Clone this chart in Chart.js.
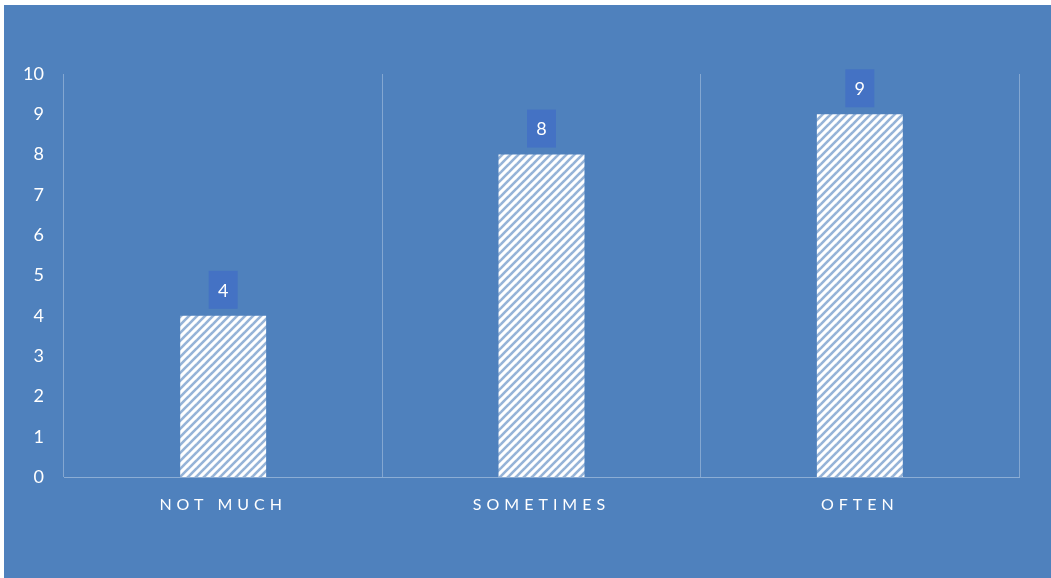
<!DOCTYPE html>
<html>
<head>
<meta charset="utf-8">
<script src="https://cdn.jsdelivr.net/npm/chart.js@4/dist/chart.umd.min.js"></script>
<style>
  html, body { margin: 0; padding: 0; background: #ffffff; }
  #wrap {
    position: absolute; left: 4px; top: 5px;
    width: 1047px; height: 573px;
    background: #4f81bd;
  }
</style>
</head>
<body>
<div id="wrap"><canvas id="chart"></canvas></div>
<script>
const categories = ['NOT MUCH', 'SOMETIMES', 'OFTEN'];
const answers = [4, 8, 9];
const yTicks = [0, 1, 2, 3, 4, 5, 6, 7, 8, 9, 10];

const FONT = 'Lato, "Open Sans", sans-serif';

// diagonal hatch fill for the bars, white with thin blue upward stripes
function makeHatch() {
  const size = 8;
  const c = document.createElement('canvas');
  c.width = size; c.height = size;
  const g = c.getContext('2d');
  g.fillStyle = '#ffffff';
  g.fillRect(0, 0, size, size);
  g.strokeStyle = 'rgba(79,129,189,0.6)';
  g.lineWidth = 2.6;
  for (let k = -1; k <= 1; k++) {
    g.beginPath();
    g.moveTo(k * size - 1, size + 1);
    g.lineTo(k * size + size + 1, -1);
    g.stroke();
  }
  return g.createPattern(c, 'repeat');
}

// spaced capitals on the category axis; the value axis ticks are drawn later (z: 1) without it
const letterSpacingPlugin = {
  id: 'letterSpacing',
  beforeDraw(chart) { chart.ctx.letterSpacing = '5px'; },
  beforeDatasetsDraw(chart) { chart.ctx.letterSpacing = '0px'; }
};

// value boxes above each bar
const valueBoxes = {
  id: 'valueBoxes',
  afterDatasetsDraw(chart) {
    const ctx = chart.ctx;
    const meta = chart.getDatasetMeta(0);
    ctx.save();
    ctx.letterSpacing = '0px';
    meta.data.forEach((bar, i) => {
      const w = 29, h = 38;
      const x = bar.x - w / 2;
      const y = bar.y - 7 - h;
      ctx.fillStyle = '#4472c4';
      ctx.fillRect(x, y, w, h);
      ctx.fillStyle = '#ffffff';
      ctx.font = '18px ' + FONT;
      ctx.textAlign = 'center';
      ctx.textBaseline = 'middle';
      ctx.fillText(String(answers[i]), bar.x, y + h / 2 + 1);
    });
    ctx.restore();
  }
};

const ctx = document.getElementById('chart').getContext('2d');
new Chart(ctx, {
  type: 'bar',
  data: {
    labels: categories,
    datasets: [{
      data: answers,
      backgroundColor: makeHatch(),
      borderWidth: 0,
      barPercentage: 0.27,
      categoryPercentage: 1
    }]
  },
  options: {
    responsive: true,
    maintainAspectRatio: false,
    animation: false,
    layout: { padding: { top: 69, right: 32, left: 0, bottom: 0 } },
    plugins: {
      legend: { display: false },
      tooltip: { enabled: false }
    },
    scales: {
      x: {
        grid: {
          color: 'rgba(255,255,255,0.3)',
          lineWidth: 1,
          drawTicks: false
        },
        border: { color: 'rgba(255,255,255,0.35)' },
        ticks: {
          color: '#ffffff',
          font: { family: FONT, size: 16 },
          padding: 18
        },
        afterFit(scale) { scale.height = 101; }
      },
      y: {
        min: 0,
        max: 10,
        afterBuildTicks(scale) { scale.ticks = yTicks.map(v => ({ value: v })); },
        grid: { display: false, drawTicks: false },
        border: { display: false },
        ticks: {
          z: 1,
          color: '#ffffff',
          font: { family: FONT, size: 18 },
          padding: 20
        },
        afterFit(scale) { scale.width = 60; }
      }
    }
  },
  plugins: [letterSpacingPlugin, valueBoxes]
});
</script>
</body>
</html>
